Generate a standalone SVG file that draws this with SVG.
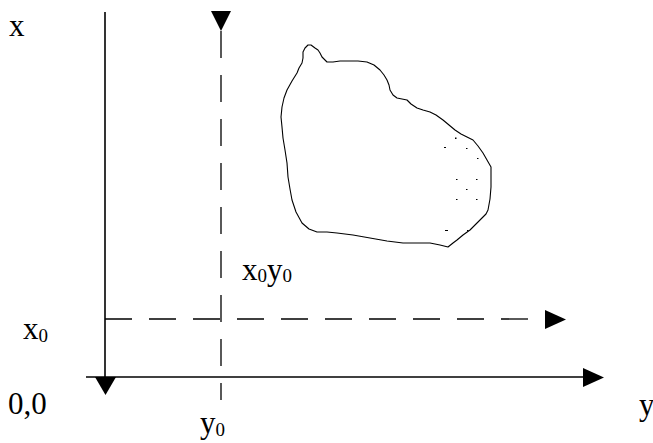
<svg xmlns="http://www.w3.org/2000/svg" width="653" height="443" viewBox="0 0 653 443">
<style>
.ax{stroke:#000;stroke-width:1.6;fill:none}
.dash{stroke:#000;stroke-width:1.3;fill:none;stroke-dasharray:27 17}
.ah{fill:#000;stroke:none}
text{font-family:'Liberation Serif','Times New Roman',Times,serif;font-size:31px;fill:#000}
.s{font-size:19px}
.blob{stroke:#000;stroke-width:1.1;fill:none;stroke-linejoin:round}
.dot{fill:#000}
</style>
<rect width="653" height="443" fill="#fff"/>
<g id="connectors">
<line class="ax" x1="105" y1="12" x2="105" y2="378"/>
<polygon class="ah" points="95,377 116,377 105.5,395"/>
<line class="ax" x1="86" y1="377" x2="584" y2="377"/>
<polygon class="ah" points="583,368 604,377.5 583,387"/>
<line class="dash" x1="221" y1="31" x2="221" y2="400"/>
<polygon class="ah" points="211,11 231,11 221,31"/>
<line class="dash" x1="105" y1="319" x2="535" y2="319"/>
<polygon class="ah" points="545,310 566,319.5 545,329"/>
</g>
<g id="region">
<path class="blob" d="M308,45 L305,48 L303,52 L303,58 L302,63 L299,68 L297,73 L292,81 L287,90 L284,98 L282,107 L281,117 L282,127 L283,138 L285,150 L287,163 L288,177 L290,189 L292,200 L296,212 L302,223 L309,229 L317,232 L327,232 L337,233 L353,235 L370,238 L387,241 L403,243 L417,243 L430,243 L440,245 L448,247 L453,243 L457,240 L463,235 L470,230 L476,224 L482,218 L486,214 L488,210 L490,199 L491,187 L491,177 L491,167 L487,160 L483,153 L478,146 L473,140 L467,137 L461,134 L455,130 L449,125 L443,120 L436,115 L430,112 L423,110 L417,108 L411,104 L407,100 L402,99 L397,98 L393,95 L390,90 L389,85 L387,80 L384,75 L380,70 L374,65 L367,62 L358,61 L350,61 L340,61 L333,62 L327,62 L322,57 L320,53 L318,50 L315,48 L311,45 Z"/>
<g class="dot">
<rect x="455" y="137.5" width="1.5" height="1.5"/>
<rect x="444" y="147" width="2" height="1"/>
<rect x="466" y="148" width="1.5" height="1"/>
<rect x="477" y="158" width="1.5" height="1"/>
<rect x="456" y="179" width="1.5" height="1"/>
<rect x="476" y="179" width="1.5" height="1"/>
<rect x="466" y="189" width="1.5" height="1"/>
<rect x="456" y="199" width="1.5" height="1"/>
<rect x="476" y="199" width="1.5" height="1"/>
<rect x="445" y="230" width="3" height="1"/>
<rect x="467" y="230" width="1.5" height="1"/>
</g>
</g>
<g id="labels">
<text x="9" y="36">x</text>
<text x="23" y="339">x<tspan class="s" dy="3">0</tspan></text>
<text x="8" y="414">0,0</text>
<text x="200" y="433">y<tspan class="s" dy="3">0</tspan></text>
<text x="639" y="415">y</text>
<text x="242" y="280">x<tspan class="s" dy="2">0</tspan><tspan dy="-2">y</tspan><tspan class="s" dy="2">0</tspan></text>
</g>
</svg>
